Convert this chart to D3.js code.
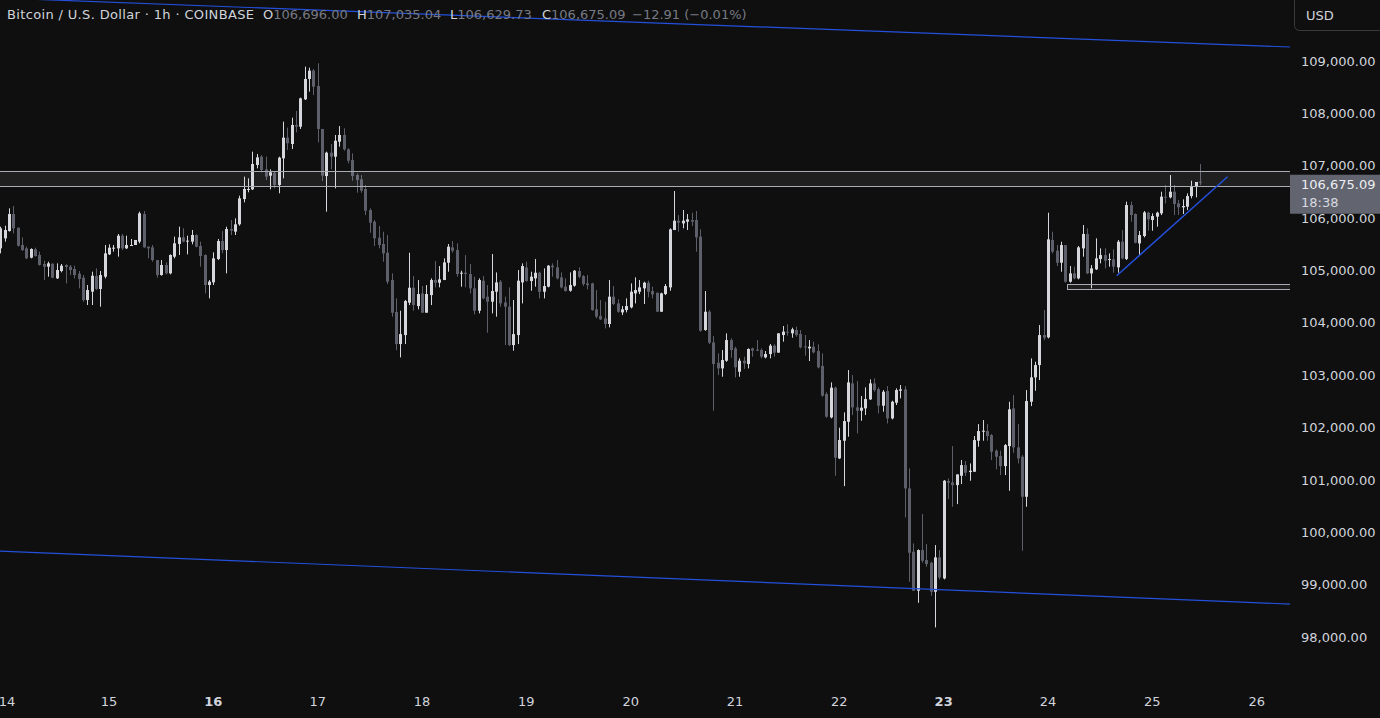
<!DOCTYPE html>
<html><head><meta charset="utf-8">
<script src="https://cdn.jsdelivr.net/npm/d3@7"></script>
<style>html,body{margin:0;padding:0;background:#0f0f0f;overflow:hidden}</style>
</head><body><svg id="c" width="1380" height="718"></svg>
<script>
// ---------- data (hourly candles, first candle = 13 Jun 23:00 UTC) ----------
const firstCandleUTC = Date.UTC(2025, 5, 13, 23);
const opens = [
105422,105613,105753,106078,105817,105486,105422,105244,105403,105295,105123,105072,105129,104849,104989,105104,105072,105028,104938,104862,104435,104595,104894,104646,104881,105308,105422,
105422,105664,105422,105480,105486,105550,106078,105454,105441,105199,104913,105104,104945,105263,105505,105632,105550,105550,105677,105467,105295,104722,104773,105219,
105562,105390,105791,105741,105881,106364,106543,106549,107014,107173,106931,106810,106867,106632,107141,107536,107415,107778,107746,108268,108657,108816,108523,107702,
106803,107249,107173,107459,107587,107313,107109,106822,106740,106555,106154,105931,105625,105505,105339,104817,104206,103594,103766,104384,104670,104320,104562,
104193,104530,104817,104766,104817,105148,105441,105390,104938,104957,104932,104658,104231,104804,104499,104403,104594,104785,104390,104308,103575,103766,104772,105059,104798,
104849,104957,104594,104690,105091,105059,104868,104690,104613,104709,104989,104893,104753,104753,104257,104129,104085,103977,104499,104371,104199,104244,104295,104562,
104594,104658,104766,104607,104575,104212,104549,104677,105772,105950,105899,105931,105963,105963,105645,103862,104212,103626,103238,103130,103276,103671,103512,103066,
103277,103213,103512,103487,103480,103340,103404,103563,103430,103767,103831,103799,103862,103786,103550,103512,103544,103461,103175,102640,102194,102761,101411,
101748,102111,102843,102385,102321,102366,102538,102843,102735,102417,102697,102175,102474,102703,102729,100838,99628,98883,99660,99469,99418,98864,99520,99119,
100978,100952,100901,101079,101283,101150,101156,101748,101926,101933,101856,101557,101455,101264,101646,102366,101621,101442,100678,102493,102958,103193,103766,103722,
105581,105377,105148,105485,104785,104944,104849,105422,105696,104944,105021,105218,105294,105199,105212,105059,105549,105218,106249,106078,105517,105657,106103,105963,106027,106090,106409,106396,106504,106281,106205,106218,106421,106600,106696];
const highs = [
105836,105855,106186,106231,105817,105632,105454,105422,105435,105359,105187,105168,105136,105136,105123,105117,105104,105091,104989,104913,104722,104977,105040,104989,105486,105499,105486,
105696,105696,105664,105601,105582,106123,106135,105454,105486,105199,105199,105155,105308,105645,105836,105804,105664,105773,105690,105550,105308,104817,105346,105601,
105753,105836,105963,105995,106428,106791,106759,107269,107224,107205,107173,106931,106887,107173,107842,107727,107918,108045,108300,108892,108873,108848,108956,107702,
107268,107415,107587,107758,107714,107332,107236,106854,106822,106631,106186,105963,105848,105740,105676,104944,104467,104231,104435,105339,104893,104817,104702,
104721,104849,105180,105084,105231,105505,105562,105517,104995,105294,105123,104881,104849,104893,104721,105314,104963,104817,104499,104677,104435,105008,105135,105167,104976,
105218,104976,105040,105103,105135,105199,104963,104849,104963,105008,105059,104912,104912,104766,104626,104435,104403,104817,104702,104448,104320,104467,104753,104868,
104817,104785,104804,104690,104575,104575,104740,105804,106517,106058,106154,106078,106103,106135,105785,104607,104244,103747,103416,103480,103798,103703,103543,103321,
103353,103512,103525,103671,103512,103461,103595,103589,103799,103939,103971,103907,103926,103862,103767,103671,103640,103589,103417,102672,102863,102780,101997,
102289,103098,103002,102888,102601,102767,102920,102939,102767,102716,102792,102512,102748,102811,102792,101220,99787,99673,100348,99775,99437,99755,99660,100997,
101029,101646,101105,101379,101360,101315,101837,102066,102143,102066,101875,101583,101557,101684,102493,102620,102066,101474,102716,103321,103257,103957,104244,106103,
105740,105485,105549,105485,105084,105072,105466,105867,105804,105103,105613,105422,105422,105326,105403,105581,105772,106313,106313,106090,105753,106135,106122,106090,106122,106504,106631,106822,106631,106345,106358,106472,106714,106663,107035.04];
const lows = [
105327,105550,105741,105709,105454,105371,105219,105231,105263,105091,104817,104881,104849,104837,104964,104754,104913,104849,104658,104404,104340,104340,104626,104308,104849,105295,105359,
105263,105390,105410,105473,105486,105518,105435,105231,105168,104862,104900,104926,104926,105231,105295,105537,105308,105499,105441,105072,104563,104467,104722,105199,
105327,104945,105677,105677,105855,106301,106492,106536,106950,106874,106727,106549,106568,106473,106759,107300,107320,107638,107702,108255,108415,108351,107447,106708,
106122,106931,106568,107364,107287,107045,106714,106485,106485,106058,105721,105466,105422,105167,104740,104116,103480,103340,103594,104339,104231,104257,104193,
104193,104339,104677,104677,104817,104976,105339,104881,104690,104677,104562,104161,104180,104448,103811,104180,104117,104308,103575,103556,103467,103594,104371,104785,104613,
104690,104467,104467,104677,104881,104830,104658,104594,104594,104690,104849,104702,104639,104231,104085,104053,103894,103913,104339,104193,104148,104199,104276,104371,
104549,104359,104486,104467,104212,104212,104530,104613,105772,105740,105804,105772,105848,105358,103830,103849,103594,102321,103002,102970,103257,103333,102958,102970,
103118,103130,103353,103461,103321,103321,103321,103353,103430,103640,103754,103716,103735,103512,103372,103270,103417,103130,102589,102188,102175,101080,101398,
100882,101825,102238,101888,102130,102238,102525,102684,102270,102302,102079,102156,102430,102557,100284,99055,98883,98654,99418,99341,98788,98183,99100,99100,
100634,100487,100538,100920,101073,100984,101156,101634,101748,101748,101379,101201,101092,101092,100793,101519,101315,99647,100487,102410,102703,102907,103671,103703,
105326,105084,104976,104766,104766,104830,104830,105263,104931,104658,105008,105135,105040,105072,104957,104957,105212,105199,105931,105517,105294,105632,105759,105759,105836,106058,106281,106377,106058,106058,106078,106154,106377,106396,106629.73];
const closes = [
105804,105773,106078,105804,105473,105390,105231,105410,105276,105104,105072,105136,104862,105009,105091,105066,105009,104913,104837,104435,104626,104900,104646,104913,105327,105435,105435,
105664,105422,105486,105486,105582,106091,105441,105422,105199,104913,105104,104945,105295,105518,105632,105550,105569,105677,105454,105276,104722,104786,105231,105562,
105390,105791,105760,105881,106377,106556,106556,107033,107160,106918,106791,106874,106632,107154,107536,107428,107778,107746,108287,108657,108816,108510,107702,106810,
107249,107173,107478,107587,107313,107096,106803,106727,106523,106141,105912,105613,105485,105326,104785,104193,103594,103785,104416,104670,104339,104549,104193,
104550,104817,104766,104830,105154,105454,105377,104932,104957,104932,104658,104231,104817,104467,104403,104607,104772,104371,104308,103575,103785,104804,105084,104798,104881,
104957,104594,104702,105091,105059,104849,104677,104607,104721,104995,104881,104741,104721,104244,104117,104066,103977,104499,104359,104212,104257,104320,104594,104626,
104677,104766,104594,104543,104212,104562,104702,105785,105950,105912,105950,105976,105931,105632,103849,104212,103620,103212,103130,103289,103671,103480,103150,103276,
103226,103500,103468,103474,103353,103404,103563,103430,103799,103831,103812,103875,103767,103531,103538,103544,103436,103149,102608,102207,102761,101424,101761,
102124,102862,102385,102321,102379,102544,102843,102716,102417,102684,102175,102493,102716,102729,100838,99609,98883,99660,99456,99393,98864,99520,99138,100984,
100946,100901,101105,101283,101137,101175,101761,101933,101939,101837,101538,101442,101264,101665,102347,101621,101411,100678,102506,102958,103193,103766,103715,105594,
105358,105148,105485,104785,104944,104849,105441,105696,104944,105040,105231,105294,105186,105218,105072,105549,105231,106249,106058,105530,105676,106109,105976,106039,106103,106409,106390,106504,106269,106205,106230,106421,106612,106690,106675.09];

const priceTicks = [98000,99000,100000,101000,102000,103000,104000,105000,106000,107000,108000,109000];
const dayTicks = [14,15,16,17,18,19,20,21,22,23,24,25,26];
const boldDays = [16,23];
// drawings: [hours since 14 Jun 00:00 UTC, price]
const resistanceZone = [106612, 106900];
const supportZone = [104640, 104741];
const supportStartHour = 244.4;
const risingTrend = [[255.8, 104900], [281.3, 106790]];
const channelTop = [[-1.1, 110203], [295.7, 109267]];
const channelBottom = [[-1.1, 99641], [295.7, 98629]];
const headerTitle = "Bitcoin / U.S. Dollar · 1h · COINBASE";
const ohlcLabels = ["O","H","L","C"];
const ohlcValues = ["106,696.00","107,035.04","106,629.73","106,675.09"];
const changeText = "\u221212.91 (\u22120.01%)";
const countdown = "18:38";

// ---------- drawing ----------
const W = 1380, H = 718, plotRight = 1290, plotBottom = 690;
const FONT = "'DejaVu Sans', sans-serif";
const UP = "#d5d7dd", DOWN = "#5d606b", TXT = "#d1d4dc", BLUE = "#2450dc", GREY = "#a9acb3";
const hourMs = 3600e3;
const base14 = Date.UTC(2025, 5, 14);
const hourDate = h => new Date(base14 + h * hourMs);

const svg = d3.select("#c");
svg.append("rect").attr("width", W).attr("height", H).attr("fill", "#0f0f0f");

const x = d3.scaleUtc().domain([Date.UTC(2025,5,15), Date.UTC(2025,5,24)]).range([109, 1048]);
const y = d3.scaleLinear().domain([98000, 109000]).range([637, 61]);

svg.append("clipPath").attr("id", "plot").append("rect")
  .attr("x", 0).attr("y", 0).attr("width", plotRight).attr("height", plotBottom);
const plot = svg.append("g").attr("clip-path", "url(#plot)");

const n = Math.min(opens.length, highs.length, lows.length, closes.length);
const candles = d3.range(n).map(i => ({
  t: new Date(firstCandleUTC + i * hourMs), o: opens[i], h: highs[i], l: lows[i], c: closes[i]
}));

const cg = plot.append("g");
cg.selectAll("line.w").data(candles).join("line")
  .attr("x1", d => Math.round(x(d.t)) + 0.5).attr("x2", d => Math.round(x(d.t)) + 0.5)
  .attr("y1", d => y(d.h)).attr("y2", d => y(d.l))
  .attr("stroke", d => d.c >= d.o ? UP : DOWN).attr("stroke-width", 1);
cg.selectAll("rect.b").data(candles).join("rect")
  .attr("x", d => Math.round(x(d.t)) - 1).attr("width", 3)
  .attr("y", d => y(Math.max(d.o, d.c)))
  .attr("height", d => Math.max(1, Math.abs(y(d.o) - y(d.c))))
  .attr("fill", d => d.c >= d.o ? UP : DOWN);

// resistance zone
plot.append("rect").attr("x", 0).attr("width", plotRight)
  .attr("y", y(resistanceZone[1])).attr("height", y(resistanceZone[0]) - y(resistanceZone[1]))
  .attr("fill", "rgba(255,255,255,0.065)");
resistanceZone.forEach(p => plot.append("line")
  .attr("x1", 0).attr("x2", plotRight).attr("y1", Math.round(y(p)) + 0.5).attr("y2", Math.round(y(p)) + 0.5)
  .attr("stroke", GREY).attr("stroke-width", 1));

// support box
const sx = Math.round(x(hourDate(supportStartHour))) + 0.5;
plot.append("rect").attr("x", sx).attr("width", plotRight - sx + 2)
  .attr("y", Math.round(y(supportZone[1])) + 0.5)
  .attr("height", Math.round(y(supportZone[0]) - y(supportZone[1])))
  .attr("fill", "rgba(255,255,255,0.07)").attr("stroke", GREY).attr("stroke-width", 1);

// blue lines
const line = d3.line().x(d => x(hourDate(d[0]))).y(d => y(d[1]));
[channelTop, channelBottom].forEach(seg => plot.append("path").attr("d", line(seg))
  .attr("fill", "none").attr("stroke", BLUE).attr("stroke-width", 1.2));
plot.append("path").attr("d", line(risingTrend))
  .attr("fill", "none").attr("stroke", BLUE).attr("stroke-width", 1.5);

// price axis
svg.append("g").selectAll("text").data(priceTicks).join("text")
  .attr("x", 1301).attr("y", d => y(d)).attr("dy", "0.36em")
  .attr("font-family", FONT).attr("font-size", 13).attr("fill", TXT)
  .text(d => d3.format(",.2f")(d));

// last price tag
const last = candles[n - 1];
const ly = y(last.c);
svg.append("rect").attr("x", plotRight).attr("y", ly - 8).attr("width", W - plotRight).attr("height", 39)
  .attr("fill", last.c >= last.o ? "#8a8d96" : "#62656f");
svg.append("text").attr("x", 1301).attr("y", ly + 2).attr("dy", "0.36em")
  .attr("font-family", FONT).attr("font-size", 13).attr("fill", "#eceef2")
  .text(d3.format(",.2f")(last.c));
svg.append("text").attr("x", 1301).attr("y", ly + 20).attr("dy", "0.36em")
  .attr("font-family", FONT).attr("font-size", 13).attr("fill", "#d8dae0")
  .text(countdown);

// time axis
svg.append("g").selectAll("text").data(dayTicks).join("text")
  .attr("x", d => Math.max(7, x(new Date(Date.UTC(2025, 5, d)))))
  .attr("y", 701).attr("dy", "0.36em").attr("text-anchor", "middle")
  .attr("font-family", FONT).attr("font-size", 13).attr("fill", TXT)
  .attr("font-weight", d => boldDays.includes(d) ? "bold" : "normal")
  .text(d => d);

// USD button
svg.append("rect").attr("x", 1294.5).attr("y", -4.5).attr("width", 100).attr("height", 35).attr("rx", 5)
  .attr("fill", "#0f0f0f").attr("stroke", "#3a3a3d").attr("stroke-width", 1);
svg.append("text").attr("x", 1306).attr("y", 15).attr("dy", "0.36em")
  .attr("font-family", FONT).attr("font-size", 13).attr("fill", TXT).text("USD");

// header
const hdr = svg.append("g").attr("font-family", FONT).attr("font-size", 13);
hdr.append("text").attr("x", 7).attr("y", 14).attr("dy", "0.36em").attr("fill", TXT)
  .attr("textLength", 247).attr("lengthAdjust", "spacing").text(headerTitle);
const labelX = [263, 357, 450, 542];
ohlcLabels.forEach((lab, i) => {
  const t = hdr.append("text").attr("x", labelX[i]).attr("y", 14).attr("dy", "0.36em");
  t.append("tspan").attr("fill", TXT).text(lab);
  t.append("tspan").attr("fill", "#777a84").text(ohlcValues[i]);
});
hdr.append("text").attr("x", 632).attr("y", 14).attr("dy", "0.36em").attr("fill", "#777a84").text(changeText);
</script></body></html>
